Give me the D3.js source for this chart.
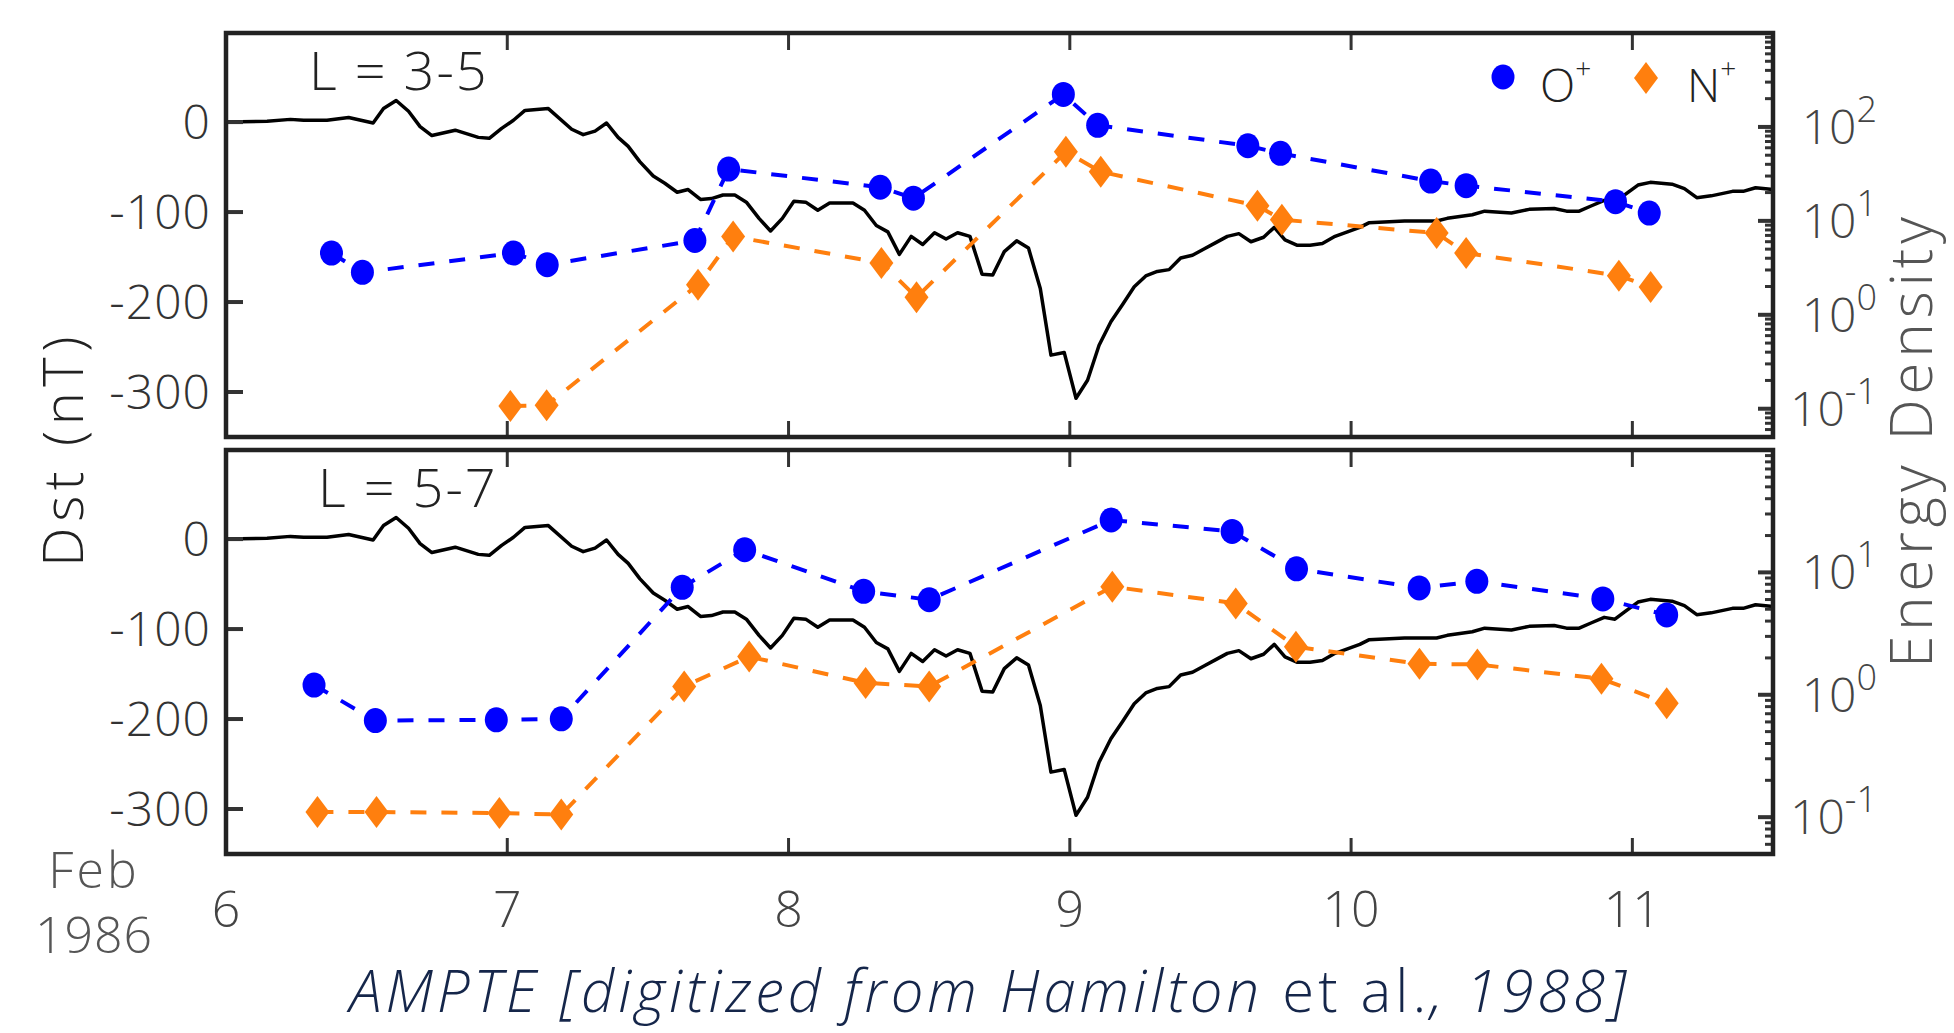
<!DOCTYPE html>
<html><head><meta charset="utf-8">
<script src="https://cdn.jsdelivr.net/npm/d3@7"></script>
<style>body{margin:0;background:#fff}svg{display:block}</style>
</head><body>
<svg id="chart" width="1954" height="1033"></svg>
<script>
// ---------- data ----------
const dstDays = [6.0, 6.146, 6.229, 6.276, 6.359, 6.436, 6.523, 6.560, 6.605, 6.649,
  6.690, 6.732, 6.815, 6.897, 6.936, 6.980, 7.022, 7.063, 7.146, 7.229,
  7.270, 7.312, 7.353, 7.394, 7.430, 7.471, 7.519, 7.560, 7.604, 7.643,
  7.687, 7.726, 7.767, 7.809, 7.850, 7.895, 7.936, 7.978, 8.019, 8.061,
  8.104, 8.146, 8.229, 8.270, 8.312, 8.353, 8.394, 8.436, 8.477, 8.519,
  8.560, 8.601, 8.645, 8.688, 8.726, 8.767, 8.811, 8.853, 8.895, 8.933,
  8.980, 9.022, 9.063, 9.104, 9.146, 9.187, 9.229, 9.270, 9.311, 9.353,
  9.394, 9.436, 9.477, 9.519, 9.560, 9.601, 9.644, 9.689, 9.727, 9.765,
  9.809, 9.854, 9.898, 9.943, 9.987, 10.031, 10.063, 10.190, 10.304, 10.342,
  10.431, 10.475, 10.570, 10.633, 10.722, 10.766, 10.811, 10.855, 10.900, 10.938,
  10.976, 11.020, 11.064, 11.141, 11.185, 11.229, 11.280, 11.356, 11.394, 11.438,
  11.5];
const dstValues = [0, 1, 3, 2, 2, 5, -1, 15, 24, 12,
  -5, -15, -9, -17, -18, -7, 2, 13, 15, -8,
  -14, -10, -1, -17, -27, -44, -60, -68, -78, -75,
  -86, -85, -81, -81, -89, -107, -121, -107, -88, -89,
  -98, -90, -90, -98, -115, -122, -147, -127, -136, -123,
  -130, -123, -127, -169, -170, -144, -132, -140, -185, -259,
  -256, -307, -287, -248, -222, -203, -183, -171, -166, -164,
  -151, -148, -141, -134, -127, -124, -133, -128, -117, -131,
  -137, -137, -135, -127, -122, -117, -112, -110, -110, -107,
  -103, -99, -101, -97, -96, -99, -99, -93, -87, -89,
  -80, -70, -67, -69, -74, -84, -82, -77, -77, -73,
  -75];

// L = 3-5
const oDaysA = [6.375, 6.485, 7.022, 7.142, 7.667, 7.787, 8.326, 8.444, 8.977, 9.099, 9.633, 9.749, 10.283, 10.409, 10.940, 11.060];
const oValsA = [4.54, 2.83, 4.54, 3.41, 6.18, 35.6, 22.8, 17.4, 222, 104, 63, 52.3, 26.5, 23.7, 16, 12.1];
const nDaysA = [7.011, 7.140, 7.678, 7.803, 8.330, 8.455, 8.986, 9.110, 9.667, 9.754, 10.304, 10.409, 10.952, 11.065];
const nValsA = [0.107, 0.109, 2.09, 6.82, 3.56, 1.54, 54.3, 33.3, 14.5, 10.3, 7.41, 4.54, 2.61, 1.98];
// L = 5-7
const oDaysB = [6.313, 6.531, 6.961, 7.192, 7.622, 7.844, 8.267, 8.500, 9.147, 9.577, 9.806, 10.242, 10.447, 10.895, 11.122];
const oValsB = [1.20, 0.615, 0.624, 0.636, 7.55, 15.3, 7.0, 5.98, 26.8, 21.6, 10.7, 7.46, 8.45, 6.07, 4.49];
const nDaysB = [6.325, 6.535, 6.972, 7.192, 7.629, 7.860, 8.274, 8.500, 9.151, 9.590, 9.804, 10.243, 10.449, 10.890, 11.122];
const nValsB = [0.110, 0.110, 0.108, 0.105, 1.17, 2.05, 1.25, 1.17, 7.64, 5.58, 2.47, 1.79, 1.77, 1.35, 0.853];

const panelLabels = ["L = 3-5", "L = 5-7"];
const xTicks = [6, 7, 8, 9, 10, 11];
const dstTicks = [0, -100, -200, -300];
const logMaxA = 1000, logMaxB = 100, logMin = 0.05;
const seriesNames = ["O", "N"];
const xTitle = ["AMPTE [digitized from Hamilton ", "et al.", ", 1988]"];

// ---------- layout ----------
const FONT = "'Open Sans', Lato, sans-serif";
const svg = d3.select("#chart");
const left = 226, right = 1773;
const x = d3.scaleLinear().domain([6, 11.5]).range([left, right]);
const BLUE = "#0000ff", ORANGE = "#ff7f0e";

const panels = [
  {top: 33, bottom: 437, logMax: logMaxA, label: panelLabels[0], labelY: 90,
   o: oDaysA.map((d, i) => [d, oValsA[i]]), n: nDaysA.map((d, i) => [d, nValsA[i]]), majors: [0.1, 1, 10, 100]},
  {top: 450, bottom: 854, logMax: logMaxB, label: panelLabels[1], labelY: 507,
   o: oDaysB.map((d, i) => [d, oValsB[i]]), n: nDaysB.map((d, i) => [d, nValsB[i]]), majors: [0.1, 1, 10]}
];
const supers = {"0.1": "-1", "1": "0", "10": "1", "100": "2"};
const dstData = dstDays.map((d, i) => [d, dstValues[i]]);

const diamond = () => { const w = 12, h = 16; return `M0,${-h}L${w},0L0,${h}L${-w},0Z`; };

panels.forEach((p, pi) => {
  const yD = d3.scaleLinear().domain([-350, 99]).range([p.bottom, p.top]);
  const yL = d3.scaleLog().domain([logMin, p.logMax]).range([p.bottom, p.top]);
  const g = svg.append("g");

  // Dst line
  g.append("path").datum(dstData)
    .attr("d", d3.line().x(d => x(d[0])).y(d => yD(d[1])))
    .attr("fill", "none").attr("stroke", "#000").attr("stroke-width", 3.5)
    .attr("stroke-linejoin", "round");

  // series
  [[p.o, BLUE, "circle"], [p.n, ORANGE, "diamond"]].forEach(([data, col, shape]) => {
    g.append("path").datum(data)
      .attr("d", d3.line().x(d => x(d[0])).y(d => yL(d[1])))
      .attr("fill", "none").attr("stroke", col).attr("stroke-width", 4)
      .attr("stroke-dasharray", "16,15");
    if (shape === "circle") {
      g.selectAll(null).data(data).enter().append("ellipse")
        .attr("cx", d => x(d[0])).attr("cy", d => yL(d[1]))
        .attr("rx", 11.5).attr("ry", 12.5).attr("fill", col);
    } else {
      g.selectAll(null).data(data).enter().append("path")
        .attr("transform", d => `translate(${x(d[0])},${yL(d[1])})`)
        .attr("d", diamond()).attr("fill", col);
    }
  });

  // ticks: x inward at top and bottom
  const tk = g.append("g").attr("stroke", "#333").attr("stroke-width", 3);
  xTicks.filter(t => t > 6).forEach(t => {
    tk.append("line").attr("x1", x(t)).attr("x2", x(t)).attr("y1", p.top).attr("y2", p.top + 17);
    tk.append("line").attr("x1", x(t)).attr("x2", x(t)).attr("y1", p.bottom).attr("y2", p.bottom - 16);
  });
  // Dst ticks
  dstTicks.forEach(t => {
    tk.append("line").attr("x1", left).attr("x2", left + 17).attr("y1", yD(t)).attr("y2", yD(t)).attr("stroke-width", 4);
  });
  // log ticks on right
  const logTicks = yL.ticks(30);
  logTicks.forEach(t => {
    const lg = Math.log10(t);
    const major = Math.abs(lg - Math.round(lg)) < 1e-9;
    const len = major ? 15 : 8;
    tk.append("line").attr("x1", right - len).attr("x2", right).attr("y1", yL(t)).attr("y2", yL(t))
      .attr("stroke-width", major ? 4 : 3);
  });

  // frame
  g.append("rect").attr("x", left).attr("y", p.top).attr("width", right - left).attr("height", p.bottom - p.top)
    .attr("fill", "none").attr("stroke", "#222").attr("stroke-width", 4.5);

  // Dst labels
  dstTicks.forEach(t => {
    g.append("text").attr("x", 211).attr("y", yD(t)).attr("dy", "0.36em")
      .attr("text-anchor", "end").attr("font-family", FONT).attr("font-size", 48).attr("font-weight", 300)
      .attr("fill", "#333").attr("letter-spacing", 1).text(t);
  });
  // log labels
  p.majors.forEach(t => {
    const tx = g.append("text").attr("x", 1877).attr("y", yL(t) + 17)
      .attr("text-anchor", "end").attr("font-family", FONT).attr("font-weight", 300).attr("fill", "#444");
    tx.append("tspan").attr("font-size", 48).text("10");
    tx.append("tspan").attr("font-size", 36).attr("dy", -22).text(supers[String(t)]);
  });

  // panel label
  g.append("text").attr("x", pi === 0 ? 309 : 318).attr("y", p.labelY)
    .attr("font-family", FONT).attr("font-size", 54).attr("font-weight", 300).attr("fill", "#222")
    .attr("letter-spacing", 2).text(p.label);
});

// legend
const lg = svg.append("g").attr("font-family", FONT).attr("font-weight", 300).attr("fill", "#222");
lg.append("ellipse").attr("cx", 1503).attr("cy", 77).attr("rx", 11.5).attr("ry", 12.5).attr("fill", BLUE);
const t1 = lg.append("text").attr("x", 1540).attr("y", 102);
t1.append("tspan").attr("font-size", 46).text(seriesNames[0]);
t1.append("tspan").attr("font-size", 28).attr("dy", -24).text("+");
lg.append("path").attr("transform", "translate(1646,78)").attr("d", diamond()).attr("fill", ORANGE);
const t2 = lg.append("text").attr("x", 1687).attr("y", 102);
t2.append("tspan").attr("font-size", 46).text(seriesNames[1]);
t2.append("tspan").attr("font-size", 28).attr("dy", -24).text("+");

// x tick labels
xTicks.forEach(t => {
  svg.append("text").attr("x", x(t)).attr("y", 927).attr("text-anchor", "middle")
    .attr("font-family", FONT).attr("font-size", 50).attr("font-weight", 300).attr("fill", "#444").text(t);
});
// Feb 1986
svg.append("text").attr("x", 94).attr("y", 888).attr("text-anchor", "middle")
  .attr("font-family", FONT).attr("font-size", 50).attr("font-weight", 300).attr("fill", "#555")
  .attr("letter-spacing", 3).text("Feb");
svg.append("text").attr("x", 94).attr("y", 953).attr("text-anchor", "middle")
  .attr("font-family", FONT).attr("font-size", 50).attr("font-weight", 300).attr("fill", "#555")
  .attr("letter-spacing", 1).text("1986");

// axis titles
svg.append("text").attr("transform", "translate(83,449) rotate(-90)").attr("text-anchor", "middle")
  .attr("font-family", FONT).attr("font-size", 56).attr("font-weight", 300).attr("fill", "#222")
  .attr("letter-spacing", 5.5).text("Dst (nT)");
svg.append("text").attr("transform", "translate(1932,440) rotate(-90)").attr("text-anchor", "middle")
  .attr("font-family", FONT).attr("font-size", 58).attr("font-weight", 300).attr("fill", "#555")
  .attr("letter-spacing", 5).text("Energy Density");

const xt = svg.append("text").attr("x", 990).attr("y", 1012).attr("text-anchor", "middle")
  .attr("font-family", FONT).attr("font-size", 58).attr("font-weight", 300).attr("fill", "#15264a")
  .attr("letter-spacing", 4);
xt.append("tspan").attr("font-style", "italic").text(xTitle[0]);
xt.append("tspan").attr("font-style", "normal").text(xTitle[1]);
xt.append("tspan").attr("font-style", "italic").text(xTitle[2]);
</script>
</body></html>
